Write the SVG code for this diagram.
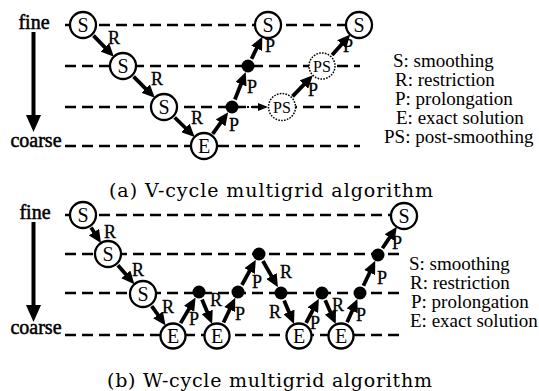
<svg xmlns="http://www.w3.org/2000/svg" width="539" height="391" viewBox="0 0 539 391">
<style>
.bg{fill:#fff}
.grid line{stroke:#000;stroke-width:2.3;stroke-dasharray:11 6;fill:none}
.node circle{fill:#fff;stroke:#000;stroke-width:2.3}
.ps circle{fill:#fff;stroke:#000;stroke-width:1.5;stroke-dasharray:1.6 1.3}
.dot circle{fill:#000;stroke:none}
.arr{stroke:#000;stroke-width:3.8;fill:none;marker-end:url(#ah)}
.dotted{stroke:#000;stroke-width:2;stroke-dasharray:2 2;fill:none;marker-end:url(#ahs)}
text{font-family:"Liberation Serif","Times New Roman",serif;fill:#000}
.nt{font-size:20px;text-anchor:middle}
.pst{font-size:16px;text-anchor:middle}
.lbl{font-size:18px;text-anchor:middle;stroke:#000;stroke-width:0.3}
.leg{font-size:19px}
.side{font-size:20px;text-anchor:middle;stroke:#000;stroke-width:0.5}
.cap{font-family:"DejaVu Serif",serif;font-size:19px}
.big{stroke:#000;stroke-width:4}
</style>
<defs>
<marker id="ah" markerUnits="userSpaceOnUse" viewBox="0 0 13 12" markerWidth="13" markerHeight="12" refX="4.5" refY="6" orient="auto">
<path d="M0,0 L13,6 L0,12 z" fill="#000"/>
</marker>
<marker id="ahs" markerUnits="userSpaceOnUse" viewBox="0 0 10 8" markerWidth="10" markerHeight="8" refX="2" refY="4" orient="auto">
<path d="M0,0 L10,4 L0,8 z" fill="#000"/>
</marker>
</defs>
<rect class="bg" x="0" y="0" width="539" height="391"/>

<!-- ===== (a) V-cycle ===== -->
<g id="a-axis">
<text class="side" x="34" y="29">fine</text>
<text class="side" x="36" y="147">coarse</text>
<line class="big" x1="33.5" y1="32" x2="33.5" y2="117"/>
<path d="M26,115 L41,115 L33.5,132 z" fill="#000"/>
</g>
<g id="a-grid" class="grid">
<line x1="65" y1="25" x2="352" y2="25"/>
<line x1="65" y1="66" x2="360" y2="66"/>
<line x1="65" y1="107" x2="360" y2="107"/>
<line x1="65" y1="146" x2="360" y2="146"/>
</g>
<g id="a-connectors">
<line class="arr" x1="93.5" y1="35.7" x2="108" y2="50.6"/>
<line class="arr" x1="133.6" y1="76.6" x2="148.8" y2="91.8"/>
<line class="arr" x1="174.7" y1="117.5" x2="188.6" y2="131"/>
<line class="arr" x1="212.7" y1="133.8" x2="223.2" y2="119.2"/>
<line class="arr" x1="234.9" y1="99.5" x2="242.6" y2="80"/>
<line class="arr" x1="251.5" y1="58.8" x2="258.6" y2="44.3"/>
<line class="dotted" x1="239" y1="107" x2="260" y2="107"/>
<line class="arr" x1="292.5" y1="96.3" x2="307" y2="81.4"/>
<line class="arr" x1="332.1" y1="54.9" x2="344.6" y2="40.9"/>
<text class="lbl" x="114" y="44">R</text>
<text class="lbl" x="157" y="85">R</text>
<text class="lbl" x="197" y="124">R</text>
<text class="lbl" x="234" y="131">P</text>
<text class="lbl" x="252" y="93">P</text>
<text class="lbl" x="270" y="52">P</text>
<text class="lbl" x="313" y="96">P</text>
<text class="lbl" x="348" y="52">P</text>
</g>
<g id="a-s1" class="node"><circle cx="83" cy="25" r="13"/><text class="nt" x="83" y="31.5">S</text></g>
<g id="a-s2" class="node"><circle cx="123" cy="66" r="13"/><text class="nt" x="123" y="72.5">S</text></g>
<g id="a-s3" class="node"><circle cx="164" cy="107" r="13"/><text class="nt" x="164" y="113.5">S</text></g>
<g id="a-e" class="node"><circle cx="204" cy="146" r="13"/><text class="nt" x="204" y="152.5">E</text></g>
<g id="a-p1" class="dot"><circle cx="232" cy="107" r="6.5"/></g>
<g id="a-p2" class="dot"><circle cx="248" cy="66" r="6.5"/></g>
<g id="a-s4" class="node"><circle cx="268" cy="25" r="13"/><text class="nt" x="268" y="31.5">S</text></g>
<g id="a-ps1" class="ps"><circle cx="282" cy="107" r="13.5"/><text class="pst" x="282" y="113">PS</text></g>
<g id="a-ps2" class="ps"><circle cx="322" cy="66" r="13"/><text class="pst" x="322" y="72">PS</text></g>
<g id="a-s5" class="node"><circle cx="359" cy="25" r="13"/><text class="nt" x="359" y="31.5">S</text></g>
<g id="a-legend">
<text class="leg" x="393" y="67">S: smoothing</text>
<text class="leg" x="395" y="86">R: restriction</text>
<text class="leg" x="395" y="105">P: prolongation</text>
<text class="leg" x="396" y="124">E: exact solution</text>
<text class="leg" x="384" y="143">PS: post-smoothing</text>
</g>
<text class="cap" x="109" y="197" textLength="324" lengthAdjust="spacing">(a) V-cycle multigrid algorithm</text>

<!-- ===== (b) W-cycle ===== -->
<g id="b-axis">
<text class="side" x="35" y="219">fine</text>
<text class="side" x="36" y="334">coarse</text>
<line class="big" x1="33.5" y1="222" x2="33.5" y2="307"/>
<path d="M26,305 L41,305 L33.5,322 z" fill="#000"/>
</g>
<g id="b-grid" class="grid">
<line x1="65" y1="215" x2="396" y2="215"/>
<line x1="65" y1="254" x2="402" y2="254"/>
<line x1="65" y1="293" x2="402" y2="293"/>
<line x1="65" y1="335" x2="402" y2="335"/>
</g>
<g id="b-connectors">
<line class="arr" x1="91.1" y1="227.6" x2="96.4" y2="235.9"/>
<line class="arr" x1="117.9" y1="265.3" x2="128.8" y2="277.8"/>
<line class="arr" x1="151.7" y1="306.2" x2="160.6" y2="318.5"/>
<line class="arr" x1="180.6" y1="323.1" x2="191.3" y2="304.9"/>
<line class="arr" x1="202" y1="299.4" x2="208.9" y2="316.1"/>
<line class="arr" x1="223.5" y1="322.5" x2="231.6" y2="305.5"/>
<line class="arr" x1="241.9" y1="285" x2="251.7" y2="267.1"/>
<line class="arr" x1="262.9" y1="261" x2="273.7" y2="279.9"/>
<line class="arr" x1="284.1" y1="300.4" x2="290.7" y2="316.1"/>
<line class="arr" x1="306.1" y1="322.8" x2="314.9" y2="306.2"/>
<line class="arr" x1="325.2" y1="300.3" x2="332.3" y2="316.3"/>
<line class="arr" x1="347.1" y1="322.3" x2="354" y2="306.7"/>
<line class="arr" x1="363.4" y1="285.8" x2="371.6" y2="268.5"/>
<line class="arr" x1="382.4" y1="248.3" x2="392.1" y2="233.9"/>
<text class="lbl" x="110" y="238">R</text>
<text class="lbl" x="138" y="276">R</text>
<text class="lbl" x="168" y="313">R</text>
<text class="lbl" x="194" y="325">P</text>
<text class="lbl" x="216" y="306">R</text>
<text class="lbl" x="240" y="320">P</text>
<text class="lbl" x="257" y="288">P</text>
<text class="lbl" x="286" y="278">R</text>
<text class="lbl" x="275" y="318">R</text>
<text class="lbl" x="315" y="329">P</text>
<text class="lbl" x="338" y="311">R</text>
<text class="lbl" x="361" y="321">P</text>
<text class="lbl" x="382" y="284">P</text>
<text class="lbl" x="397" y="249">P</text>
</g>
<g id="b-s1" class="node"><circle cx="83" cy="215" r="13"/><text class="nt" x="83" y="221.5">S</text></g>
<g id="b-s2" class="node"><circle cx="108" cy="254" r="13"/><text class="nt" x="108" y="260.5">S</text></g>
<g id="b-s3" class="node"><circle cx="143" cy="294" r="13"/><text class="nt" x="143" y="300.5">S</text></g>
<g id="b-e1" class="node"><circle cx="173" cy="336" r="12.5"/><text class="nt" x="173" y="342.5">E</text></g>
<g id="b-p1" class="dot"><circle cx="199" cy="292" r="6.5"/></g>
<g id="b-e2" class="node"><circle cx="217" cy="336" r="12.5"/><text class="nt" x="217" y="342.5">E</text></g>
<g id="b-p2" class="dot"><circle cx="238" cy="292" r="6.5"/></g>
<g id="b-p3" class="dot"><circle cx="259" cy="254" r="6.5"/></g>
<g id="b-p4" class="dot"><circle cx="281" cy="293" r="6.5"/></g>
<g id="b-e3" class="node"><circle cx="299" cy="336" r="12.5"/><text class="nt" x="299" y="342.5">E</text></g>
<g id="b-p5" class="dot"><circle cx="322" cy="293" r="6.5"/></g>
<g id="b-e4" class="node"><circle cx="341" cy="336" r="12.5"/><text class="nt" x="341" y="342.5">E</text></g>
<g id="b-p6" class="dot"><circle cx="360" cy="293" r="6.5"/></g>
<g id="b-p7" class="dot"><circle cx="378" cy="255" r="6.5"/></g>
<g id="b-s4" class="node"><circle cx="404" cy="216" r="13"/><text class="nt" x="404" y="222.5">S</text></g>
<g id="b-legend">
<text class="leg" x="409" y="270">S: smoothing</text>
<text class="leg" x="410" y="289">R: restriction</text>
<text class="leg" x="411" y="308">P: prolongation</text>
<text class="leg" x="410" y="327">E: exact solution</text>
</g>
<text class="cap" x="107" y="387" textLength="325" lengthAdjust="spacing">(b) W-cycle multigrid algorithm</text>
</svg>
